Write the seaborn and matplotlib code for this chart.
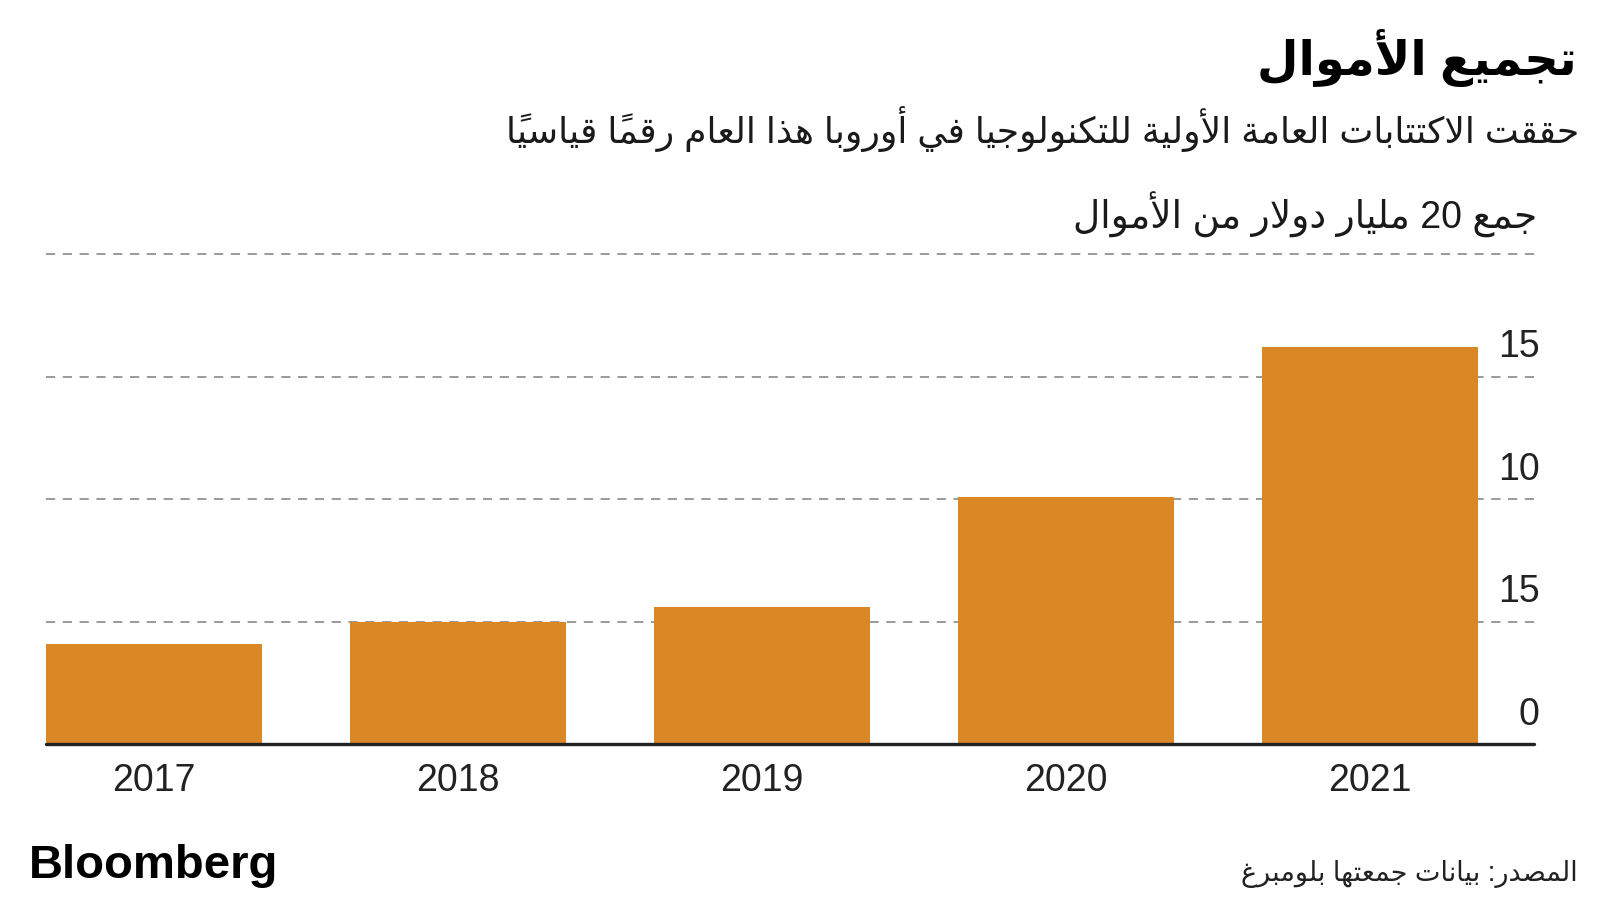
import re
import unicodedata
import matplotlib
matplotlib.use('Agg')
import matplotlib.pyplot as plt
import seaborn as sns
import pandas as pd

# Data
years = ['2017', '2018', '2019', '2020', '2021']
raised = [4.1, 5.0, 5.6, 10.1, 16.2]  # مليار دولار
y_ticks = [0, 5, 10, 15]
y_tick_labels = ['0', '15', '10', '15']  # as printed on the original chart
grid_levels = [5, 10, 15, 20]

title = 'تجميع الأموال'
subtitle = 'حققت الاكتتابات العامة الأولية للتكنولوجيا في أوروبا هذا العام رقماً قياسياً'
axis_note = 'جمع 20 مليار دولار من الأموال'
source = 'المصدر: بيانات جمعتها بلومبرغ'
logo = 'Bloomberg'

# matplotlib has no Arabic shaping, so map letters to presentation forms
# (first code point = isolated form, then final, initial, medial)
AR_FORMS = {
    'ء': (0xFE80, 1), 'آ': (0xFE81, 2), 'أ': (0xFE83, 2), 'ؤ': (0xFE85, 2),
    'إ': (0xFE87, 2), 'ئ': (0xFE89, 4), 'ا': (0xFE8D, 2), 'ب': (0xFE8F, 4),
    'ة': (0xFE93, 2), 'ت': (0xFE95, 4), 'ث': (0xFE99, 4), 'ج': (0xFE9D, 4),
    'ح': (0xFEA1, 4), 'خ': (0xFEA5, 4), 'د': (0xFEA9, 2), 'ذ': (0xFEAB, 2),
    'ر': (0xFEAD, 2), 'ز': (0xFEAF, 2), 'س': (0xFEB1, 4), 'ش': (0xFEB5, 4),
    'ص': (0xFEB9, 4), 'ض': (0xFEBD, 4), 'ط': (0xFEC1, 4), 'ظ': (0xFEC5, 4),
    'ع': (0xFEC9, 4), 'غ': (0xFECD, 4), 'ف': (0xFED1, 4), 'ق': (0xFED5, 4),
    'ك': (0xFED9, 4), 'ل': (0xFEDD, 4), 'م': (0xFEE1, 4), 'ن': (0xFEE5, 4),
    'ه': (0xFEE9, 4), 'و': (0xFEED, 2), 'ى': (0xFEEF, 2), 'ي': (0xFEF1, 4),
}
LAM_ALEF = {'آ': 0xFEF5, 'أ': 0xFEF7, 'إ': 0xFEF9, 'ا': 0xFEFB}


def ar(text):
    units = []
    i = 0
    while i < len(text):
        c = text[i]
        if unicodedata.combining(c) and units:
            units[-1][2] += c
        elif c == 'ل' and text[i + 1:i + 2] in LAM_ALEF:
            units.append([LAM_ALEF[text[i + 1]], 2, ''])
            i += 1
        elif c in AR_FORMS:
            units.append([AR_FORMS[c][0], AR_FORMS[c][1], ''])
        else:
            units.append([c, 0, ''])
        i += 1
    out = []
    for k, (g, n, marks) in enumerate(units):
        if n == 0:
            out.append(g + marks)
            continue
        prev = units[k - 1] if k > 0 else None
        nxt = units[k + 1] if k + 1 < len(units) else None
        jp = prev is not None and prev[1] == 4 and n >= 2
        jn = nxt is not None and n == 4 and nxt[1] >= 2
        form = 3 if (jp and jn) else 1 if jp else 2 if jn else 0
        out.append(chr(g + form) + marks)
    s = ''.join(out[::-1])
    return re.sub(r'[0-9]+', lambda m: m.group()[::-1], s)


sns.set_style('white')
plt.rcParams['font.family'] = ['Liberation Sans', 'DejaVu Sans']

df = pd.DataFrame({'year': years, 'value': raised})

fig = plt.figure(figsize=(16, 9), dpi=100)
ax = fig.add_axes([0.02875, 0.1733, 0.93, 0.558])

for lvl in grid_levels:
    ax.axhline(lvl, color='#7f7f7f', lw=1.1, ls=(0, (6, 5)), zorder=0)

sns.barplot(data=df, x='year', y='value', color='#DA8825', saturation=1,
            width=0.71, edgecolor='none', linewidth=0, ax=ax, zorder=2)

ax.axhline(0, color='#222222', lw=2.4, zorder=3, clip_on=False)
ax.set_xlim(-0.355, 4.54)
ax.set_ylim(0, 20.5)
ax.set_xlabel('')
ax.set_ylabel('')
ax.set_yticks([])
ax.tick_params(axis='x', length=0, pad=14, labelsize=27, labelcolor='#222222')
sns.despine(ax=ax, left=True, bottom=True)

for v, lab in zip(y_ticks, y_tick_labels):
    ax.annotate(lab, xy=(1, v), xycoords=('axes fraction', 'data'),
                xytext=(4, 14), textcoords='offset points',
                ha='right', va='baseline', fontsize=27, color='#222222')

fig.text(0.9856, 0.917, ar(title), ha='right', va='baseline',
         fontsize=34.5, fontweight='bold', color='#000000')
fig.text(0.9869, 0.841, ar(subtitle), ha='right', va='baseline',
         fontsize=26, color='#1a1a1a')
fig.text(0.9606, 0.746, ar(axis_note), ha='right', va='baseline',
         fontsize=27, color='#1a1a1a')
fig.text(0.9863, 0.021, ar(source), ha='right', va='baseline',
         fontsize=19.5, color='#222222')
fig.text(0.018, 0.025, logo, ha='left', va='baseline',
         fontsize=34, fontweight='bold', color='#000000')

fig.savefig('out.png', dpi=100)
